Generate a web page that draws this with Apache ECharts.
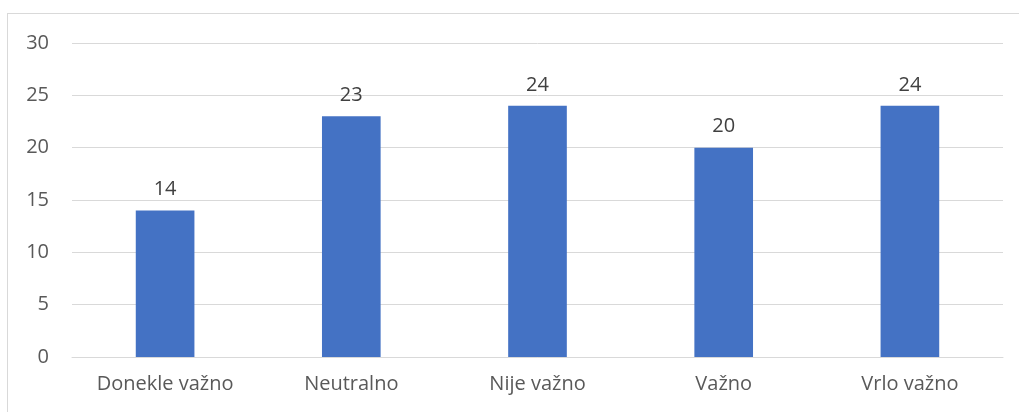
<!DOCTYPE html>
<html>
<head>
<meta charset="utf-8">
<script src="https://cdn.jsdelivr.net/npm/echarts@6/dist/echarts.min.js"></script>
<style>
  html, body { margin: 0; padding: 0; background: #fff; }
  #frame {
    position: absolute; left: 7px; top: 13px; width: 1030px; height: 420px;
    border: 1px solid #d9d9d9; box-sizing: border-box;
  }
  #main { position: absolute; left: 0; top: 0; width: 1019px; height: 412px; }
</style>
</head>
<body>
<div id="frame"></div>
<div id="main"></div>
<script>
// kategorije i vrijednosti
const categories = ['Donekle važno', 'Neutralno', 'Nije važno', 'Važno', 'Vrlo važno']
const values = [14, 23, 24, 20, 24]
const yTicks = { min: 0, max: 30, interval: 5 }

const myChart = echarts.init(document.getElementById('main'))
const fontFamily = '"Open Sans", sans-serif'

myChart.setOption({
  animation: false,
  grid: { left: 72, right: 16, top: 43, bottom: 55, containLabel: false },
  xAxis: {
    type: 'category',
    data: categories,
    axisLine: { lineStyle: { color: '#d9d9d9', width: 1 } },
    axisTick: { show: false },
    axisLabel: { color: '#595959', fontSize: 20, fontFamily: fontFamily, margin: 17 }
  },
  yAxis: {
    type: 'value',
    min: yTicks.min,
    max: yTicks.max,
    interval: yTicks.interval,
    axisLine: { show: false },
    axisTick: { show: false },
    splitLine: { lineStyle: { color: '#d9d9d9', width: 1 } },
    axisLabel: { color: '#595959', fontSize: 20, fontFamily: fontFamily, margin: 23 }
  },
  series: [{
    type: 'bar',
    data: values,
    barWidth: '31.5%',
    itemStyle: { color: '#4472C4' },
    label: {
      show: true,
      position: 'top',
      distance: 11,
      color: '#404040',
      fontSize: 20,
      fontFamily: fontFamily
    }
  }]
})
</script>
</body>
</html>
